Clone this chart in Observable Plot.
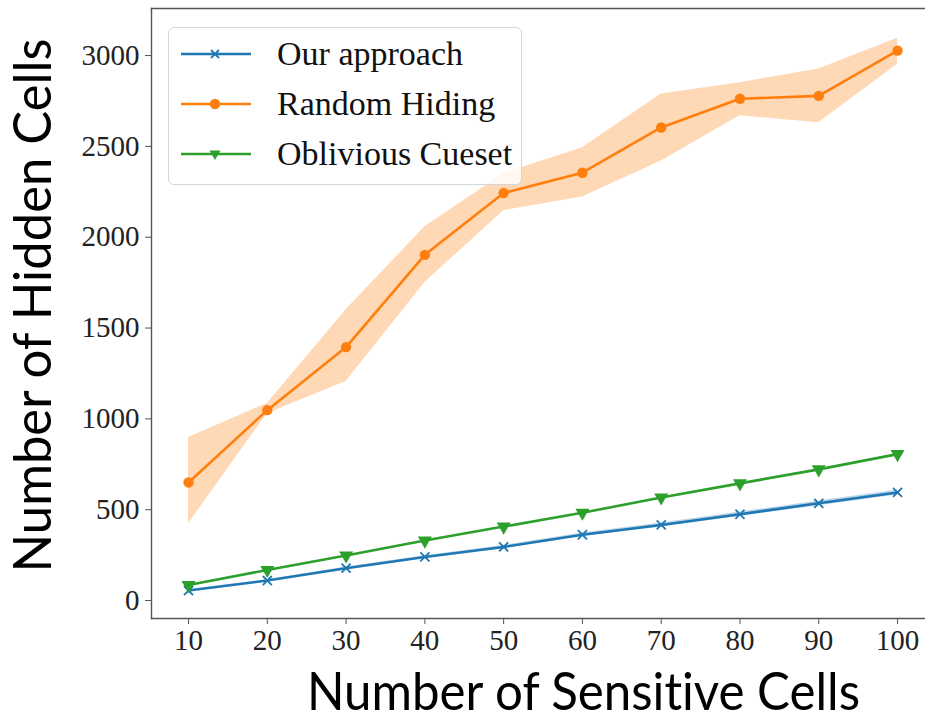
<!DOCTYPE html>
<html>
<head>
<meta charset="utf-8">
<script src="https://cdn.jsdelivr.net/npm/d3@7"></script>
<script src="https://cdn.jsdelivr.net/npm/@observablehq/plot@0.6"></script>
<style>
  html, body { margin: 0; padding: 0; background: white; }
  #wrap { position: relative; width: 925px; height: 720px; overflow: hidden; }
  #wrap svg text { font-variant-ligatures: none; }
  #legend { position: absolute; left: 168px; top: 27px; width: 352px; height: 156px;
    border: 1px solid #d6d6d6; border-radius: 6px; background: rgba(255,255,255,0.8);
    font-family: "Liberation Serif", serif; font-size: 34px; color: #111; }
  .row { position: absolute; left: 0; height: 40px; width: 100%; }
  .row svg { position: absolute; left: 11px; top: 0; }
  .row span { position: absolute; left: 108px; top: 0; line-height: 40px; white-space: nowrap; }
</style>
</head>
<body>
<div id="wrap"></div>
<script>
// ---- data ----
const sensitiveCells = [10, 20, 30, 40, 50, 60, 70, 80, 90, 100];
const ourApproach    = [55, 110, 178, 240, 295, 362, 416, 475, 535, 595];
const ourApproachLo  = [50, 105, 172, 233, 287, 352, 405, 463, 522, 581];
const ourApproachHi  = [60, 115, 184, 247, 303, 372, 427, 487, 548, 609];
const randomHiding   = [650, 1048, 1395, 1903, 2243, 2355, 2604, 2762, 2778, 3027];
const randomHidingLo = [423, 1030, 1205, 1750, 2146, 2222, 2420, 2668, 2630, 2952];
const randomHidingHi = [898, 1085, 1600, 2058, 2350, 2493, 2788, 2850, 2926, 3095];
const obliviousCueset = [85, 168, 248, 330, 407, 483, 567, 645, 722, 806];
const xTicks = [10, 20, 30, 40, 50, 60, 70, 80, 90, 100];
const yTicks = [0, 500, 1000, 1500, 2000, 2500, 3000];
const seriesNames = ["Our approach", "Random Hiding", "Oblivious Cueset"];
const seriesColors = ["#1f77b4", "#ff7f0e", "#2ca02c"];
const xLabel = "Number of Sensitive Cells";
const yLabel = "Number of Hidden Cells";

// ---- tables ----
const ourRows = sensitiveCells.map((x, i) => ({x, y: ourApproach[i], lo: ourApproachLo[i], hi: ourApproachHi[i]}));
const rndRows = sensitiveCells.map((x, i) => ({x, y: randomHiding[i], lo: randomHidingLo[i], hi: randomHidingHi[i]}));
const oblRows = sensitiveCells.map((x, i) => ({x, y: obliviousCueset[i]}));

const triangleDown = {
  draw(context, size) {
    const y = -Math.sqrt(size / (Math.sqrt(3) * 3));
    context.moveTo(0, -y * 2);
    context.lineTo(-Math.sqrt(3) * y, y);
    context.lineTo(Math.sqrt(3) * y, y);
    context.closePath();
  }
};

const [cBlue, cOrange, cGreen] = seriesColors;

const chart = Plot.plot({
  width: 925,
  height: 720,
  marginLeft: 151,
  marginRight: 0,
  marginTop: 8,
  marginBottom: 102,
  x: {domain: [5.3, 103.55]},
  y: {domain: [-99, 3259]},
  style: {fontFamily: "Liberation Serif, serif", background: "white", color: "#222"},
  marks: [
    Plot.areaY(rndRows, {x: "x", y1: "lo", y2: "hi", fill: cOrange, fillOpacity: 0.3}),
    Plot.areaY(ourRows, {x: "x", y1: "lo", y2: "hi", fill: cBlue, fillOpacity: 0.3}),
    Plot.lineY(ourRows, {x: "x", y: "y", stroke: cBlue, strokeWidth: 2.6}),
    Plot.dot(ourRows, {x: "x", y: "y", symbol: "times", stroke: cBlue, strokeWidth: 1.8, r: 4.2}),
    Plot.lineY(rndRows, {x: "x", y: "y", stroke: cOrange, strokeWidth: 2.6}),
    Plot.dot(rndRows, {x: "x", y: "y", symbol: "circle", fill: cOrange, r: 5.2}),
    Plot.lineY(oblRows, {x: "x", y: "y", stroke: cGreen, strokeWidth: 2.6}),
    Plot.dot(oblRows, {x: "x", y: "y", symbol: triangleDown, fill: cGreen, r: 5.2}),
    Plot.frame({anchor: "left", stroke: "#555", strokeWidth: 1.4}),
    Plot.frame({anchor: "top", stroke: "#555", strokeWidth: 1.4}),
    Plot.frame({anchor: "bottom", stroke: "#555", strokeWidth: 1.4}),
    Plot.axisX({ticks: xTicks, tickFormat: d => String(d), tickSize: 6, tickPadding: 5, fontSize: 29, label: null, stroke: "#555"}),
    Plot.axisY({ticks: yTicks, tickFormat: d => String(d), tickSize: 6, tickPadding: 6, fontSize: 29, label: null, stroke: "#555"}),
    Plot.text([xLabel], {frameAnchor: "bottom", text: d => d, dx: 45, dy: 91, fontSize: 53, fontFamily: "Lato, sans-serif", fill: "#000", className: "xlab"}),
    Plot.text([yLabel], {frameAnchor: "left", text: d => d, rotate: -90, textAnchor: "start", dx: -117, dy: 259, fontSize: 53, fontFamily: "Lato, sans-serif", fill: "#000", className: "ylab"})
  ]
});

document.getElementById("wrap").appendChild(chart);

// squeeze axis labels horizontally to match the reference widths
chart.querySelectorAll(".xlab text").forEach(t => { t.setAttribute("textLength", 553); t.setAttribute("lengthAdjust", "spacingAndGlyphs"); });
chart.querySelectorAll(".ylab text").forEach(t => { t.setAttribute("textLength", 534); t.setAttribute("lengthAdjust", "spacingAndGlyphs"); });

// ---- legend ----
const legend = document.createElement("div");
legend.id = "legend";
const symbols = ["times", "circle", "tri"];
seriesNames.forEach((name, i) => {
  const row = document.createElement("div");
  row.className = "row";
  row.style.top = (6 + i * 50) + "px";
  const c = seriesColors[i];
  let mk = "";
  if (symbols[i] === "times") mk = `<path d="M31,16L39,24M39,16L31,24" stroke="${c}" stroke-width="1.8"/>`;
  else if (symbols[i] === "circle") mk = `<circle cx="35" cy="20" r="5.2" fill="${c}"/>`;
  else mk = `<path d="M29.5,16.5L40.5,16.5L35,26Z" fill="${c}"/>`;
  row.innerHTML = `<svg width="72" height="40"><line x1="1" y1="20" x2="71" y2="20" stroke="${c}" stroke-width="2.6"/>${mk}</svg><span>${name}</span>`;
  legend.appendChild(row);
});
document.getElementById("wrap").appendChild(legend);
</script>
</body>
</html>
